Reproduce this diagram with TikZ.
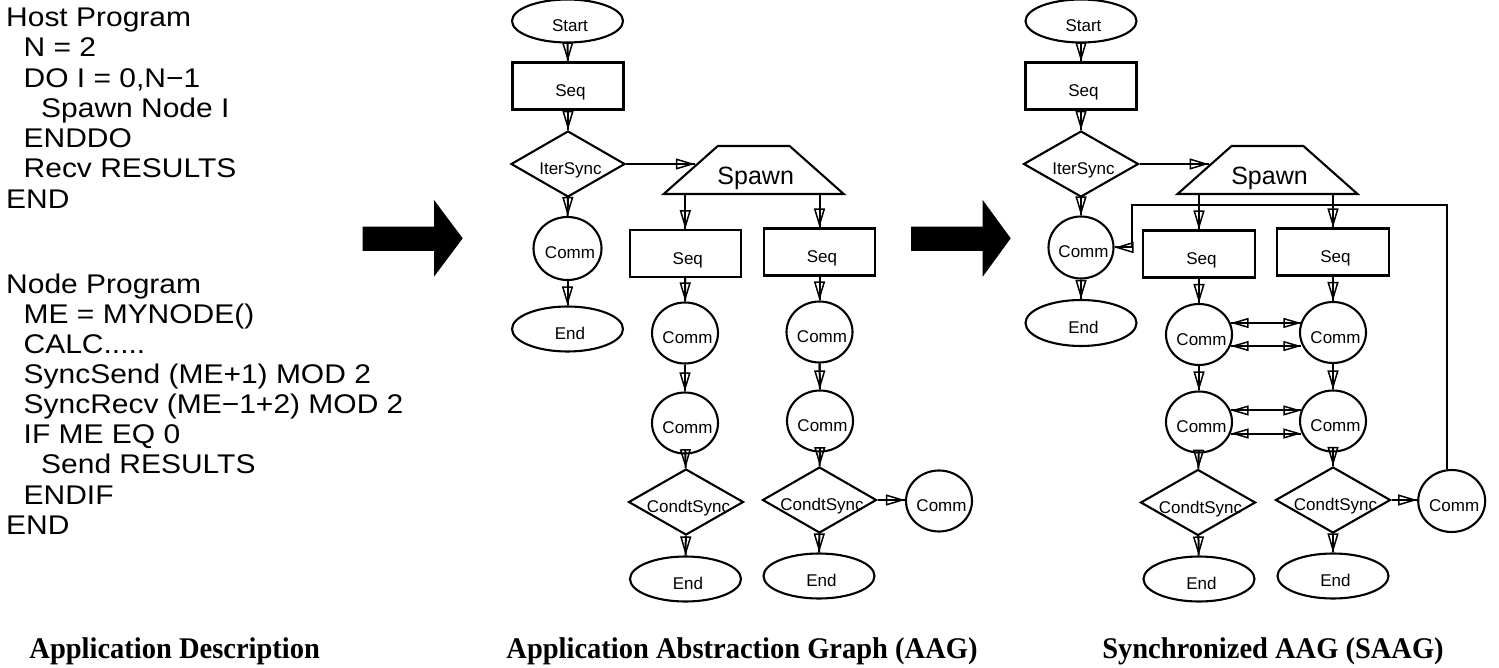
\documentclass[tikz,border=0pt]{standalone}
\usepackage{fontspec}
\usetikzlibrary{shapes.geometric,arrows.meta,calc}
\newfontfamily\nodefont{Liberation Sans}
\newfontfamily\codefont{Liberation Sans}[FakeStretch=1.11]
\newfontfamily\capfont{Liberation Serif}[FakeStretch=0.95]

\begin{document}
\begin{tikzpicture}[x=1pt,y=-1pt,
  shp/.style={draw, line width=2.1pt, inner sep=0pt},
  terminal/.style={shp, ellipse, minimum width=111pt, minimum height=45pt},
  seqbox/.style={shp, rectangle, minimum width=111pt, minimum height=47pt},
  sync/.style={shp, diamond, minimum width=115pt, minimum height=66pt},
  comm/.style={shp, ellipse, minimum width=66pt, minimum height=61pt},
  spawnbox/.style={shp, trapezium, trapezium left angle=53, trapezium right angle=53,
    trapezium stretches=true, minimum width=180pt, minimum height=48pt},
  lbl/.style={font=\nodefont\fontsize{17}{17}\selectfont, inner sep=0pt,
    text height=12pt, text depth=0pt, xshift=2.5pt, yshift=-4.5pt},
  biglbl/.style={font=\nodefont\fontsize{25}{25}\selectfont, inner sep=0pt,
    text height=18pt, text depth=0pt, xshift=2pt, yshift=-5.3pt},
  txt/.style={label={[lbl]center:#1}},
  bigtxt/.style={label={[biglbl]center:#1}},
  tip/.style={Triangle[open, length=19pt, width=11pt, line width=1.5pt]},
  flow/.style={line width=2pt, -{Triangle[open, length=19pt, width=11pt, line width=1.5pt]},
    postaction={draw, -, line width=2pt}},
  biflow/.style={line width=2pt,
    {Triangle[open, length=18pt, width=10pt, line width=1.5pt]}-{Triangle[open, length=18pt, width=10pt, line width=1.5pt]},
    postaction={draw, -, line width=2pt}},
  codeline/.style={anchor=base west, inner sep=0pt, font=\codefont\fontsize{27}{30}\selectfont},
  caption/.style={anchor=base, inner sep=0pt, font=\capfont\bfseries\fontsize{30}{32}\selectfont},
  bigarrow/.style={fill=black}
]
\useasboundingbox (0,0) rectangle (1499,668);

% ---------- program text ----------
\node[codeline] (h1) at (6,26.7)    {Host Program};
\node[codeline] (h2) at (23.5,56.9) {N = 2};
\node[codeline] (h3) at (23.5,87.2) {DO I = 0,N−1};
\node[codeline] (h4) at (41,117.4)  {Spawn Node I};
\node[codeline] (h5) at (23.5,147.7){ENDDO};
\node[codeline] (h6) at (23.5,177.9){Recv RESULTS};
\node[codeline] (h7) at (6,208.2)   {END};

\node[codeline] (n1) at (6,293.3)    {Node Program};
\node[codeline] (n2) at (23.5,323.4) {ME = MYNODE()};
\node[codeline] (n3) at (23.5,353.5) {CALC.....};
\node[codeline] (n4) at (23.5,383.6) {SyncSend (ME+1) MOD 2};
\node[codeline] (n5) at (23.5,413.7) {SyncRecv (ME−1+2) MOD 2};
\node[codeline] (n6) at (23.5,443.8) {IF ME EQ 0};
\node[codeline] (n7) at (41,473.9)   {Send RESULTS};
\node[codeline] (n8) at (23.5,504.0) {ENDIF};
\node[codeline] (n9) at (6,534.1)    {END};

% ---------- block arrows between the panels ----------
\fill[bigarrow] (362.7,226.7) -- (434,226.7) -- (434,200) -- (462.7,238.3)
  -- (434,276.7) -- (434,251) -- (362.7,251) -- cycle;
\fill[bigarrow] (911,226.7) -- (982.7,226.7) -- (982.7,200) -- (1010.7,238.3)
  -- (982.7,276.7) -- (982.7,251) -- (911,251) -- cycle;

% ---------- application abstraction graph ----------
\node[terminal, minimum height=43pt, txt=Start] (a_start) at (567.5,21) {};
\node[seqbox, txt=Seq]        (a_seq)   at (568,86) {};
\node[sync, minimum width=114pt, txt=IterSync] (a_iter) at (568,164) {};
\node[spawnbox, bigtxt=Spawn] (a_spawn) at (753.7,170) {\phantom{\rule{2pt}{2pt}}};
\node[comm, minimum width=68pt, minimum height=63pt, txt=Comm] (a_comm) at (567.5,248.5) {};
\node[terminal, txt=End]      (a_end)   at (567.5,329) {};

\node[seqbox, txt=Seq]        (a_seqL)  at (685.3,253.7) {};
\node[seqbox, txt=Seq]        (a_seqR)  at (819.5,252) {};
\node[comm, txt=Comm]         (a_c1L)   at (685,333) {};
\node[comm, txt=Comm]         (a_c1R)   at (819.5,332) {};
\node[comm, txt=Comm]         (a_c2L)   at (685,423) {};
\node[comm, txt=Comm]         (a_c2R)   at (820,421) {};
\node[sync, txt=CondtSync]    (a_csL)   at (686,502) {};
\node[sync, minimum width=114pt, txt=CondtSync] (a_csR) at (819.5,500) {};
\node[comm, txt=Comm]         (a_cx)    at (939,501) {};
\node[terminal, txt=End]      (a_endL)  at (685.5,579) {};
\node[terminal, txt=End]      (a_endR)  at (819,576) {};

\coordinate (a_in) at ($(a_spawn.top left corner)!0.4!(a_spawn.bottom left corner)$);

\draw[flow] (a_start) -- (a_seq);
\draw[flow] (a_seq) -- (a_iter);
\draw[flow] (a_iter.east) -- (a_iter.east -| a_in);
\draw[flow] (a_iter) -- (a_comm);
\draw[flow] (a_comm) -- (a_end);
\draw[flow] (a_spawn.south -| a_seqL.north) -- (a_seqL.north);
\draw[flow] (a_spawn.south -| a_seqR.north) -- (a_seqR.north);
\draw[flow] (a_seqL) -- (a_c1L);
\draw[flow] (a_c1L) -- (a_c2L);
\draw[flow] (a_c2L) -- (a_csL);
\draw[flow] (a_csL) -- (a_endL);
\draw[flow] (a_seqR) -- (a_c1R);
\draw[flow] (a_c1R) -- (a_c2R);
\draw[flow] (a_c2R) -- (a_csR);
\draw[flow] (a_csR) -- (a_endR);
\draw[flow] (a_csR.east) -- (a_csR.east -| a_cx.west);

% ---------- synchronized graph ----------
\node[terminal, minimum height=43pt, txt=Start] (s_start) at (1081,21) {};
\node[seqbox, txt=Seq]        (s_seq)   at (1081,86) {};
\node[sync, txt=IterSync]     (s_iter)  at (1081,164) {};
\node[spawnbox, bigtxt=Spawn] (s_spawn) at (1267.5,170) {\phantom{\rule{2pt}{2pt}}};
\node[comm, minimum width=65pt, minimum height=62pt, txt=Comm] (s_comm) at (1081,247.5) {};
\node[terminal, minimum height=46pt, txt=End] (s_end) at (1081,323) {};

\node[seqbox, minimum width=112pt, txt=Seq] (s_seqL) at (1199,254) {};
\node[seqbox, minimum width=112pt, txt=Seq] (s_seqR) at (1333,252) {};
\node[comm, txt=Comm]         (s_c1L)   at (1199,334.5) {};
\node[comm, txt=Comm]         (s_c1R)   at (1333,332.5) {};
\node[comm, txt=Comm]         (s_c2L)   at (1199,422) {};
\node[comm, txt=Comm]         (s_c2R)   at (1333,421) {};
\node[sync, txt=CondtSync]    (s_csL)   at (1198,502.5) {};
\node[sync, txt=CondtSync]    (s_csR)   at (1333,500) {};
\node[comm, minimum width=67pt, minimum height=62pt, txt=Comm] (s_cx) at (1451.7,501) {};
\node[terminal, txt=End]      (s_endL)  at (1199,579) {};
\node[terminal, txt=End]      (s_endR)  at (1333,576) {};

\coordinate (s_in) at ($(s_spawn.top left corner)!0.4!(s_spawn.bottom left corner)$);
\coordinate (s_fb) at (1131.7,205);

\draw[flow] (s_start) -- (s_seq);
\draw[flow] (s_seq) -- (s_iter);
\draw[flow] (s_iter.east) -- (s_iter.east -| s_in);
\draw[flow] (s_iter) -- (s_comm);
\draw[flow] (s_comm) -- (s_end);
\draw[flow] (s_spawn.south -| s_seqL.north) -- (s_seqL.north);
\draw[flow] (s_spawn.south -| s_seqR.north) -- (s_seqR.north);
\draw[flow] (s_seqL) -- (s_c1L);
\draw[flow] (s_c1L) -- (s_c2L);
\draw[flow] (s_c2L) -- (s_csL);
\draw[flow] (s_csL) -- (s_endL);
\draw[flow] (s_seqR) -- (s_c1R);
\draw[flow] (s_c1R) -- (s_c2R);
\draw[flow] (s_c2R) -- (s_csR);
\draw[flow] (s_csR) -- (s_endR);
\draw[flow] (s_csR.east) -- (s_csR.east -| s_cx.west);

% synchronisation pairs
\draw[biflow] (s_c1L.20)  -- (s_c1L.20 -| s_c1R.160);
\draw[biflow] (s_c1L.-20) -- (s_c1L.-20 -| s_c1R.200);
\draw[biflow] (s_c2L.20)  -- (s_c2L.20 -| s_c2R.160);
\draw[biflow] (s_c2L.-20) -- (s_c2L.-20 -| s_c2R.200);

% result message back to the host
\draw[flow] ([xshift=-5pt]s_cx.north) |- (s_fb) |- (s_comm.east);

% ---------- captions ----------
\node[caption] (cap1) at (174.7,658) {Application Description};
\node[caption] (cap2) at (742,658)   {Application Abstraction Graph (AAG)};
\node[caption] (cap3) at (1273,658)  {Synchronized AAG (SAAG)};
\end{tikzpicture}
\end{document}
